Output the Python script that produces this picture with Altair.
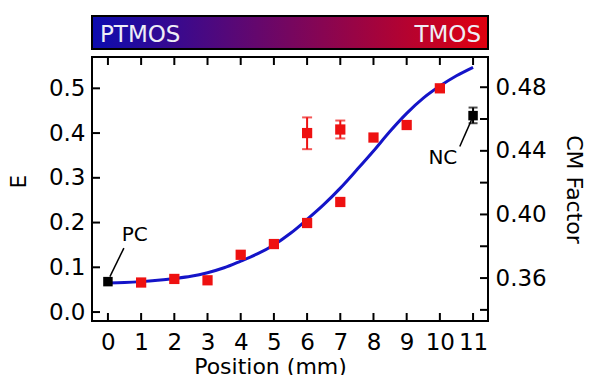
import altair as alt
import pandas as pd

# ---- data ----------------------------------------------------------------
# electrode positions (mm) and measured E of the sample points
sample_pos = [1, 2, 3, 4, 5, 6, 6, 7, 7, 8, 9, 10]
sample_e = [0.066, 0.074, 0.071, 0.128, 0.152, 0.199, 0.400, 0.246, 0.408, 0.390, 0.418, 0.500]

# error bars on the sample points that carry one
err_pos = [6, 7]
err_lo = [0.364, 0.388]
err_hi = [0.435, 0.428]

# controls: positive (PC) and negative (NC)
ctrl_pos = [0, 11]
ctrl_e = [0.068, 0.439]
ctrl_name = ["PC", "NC"]
nc_lo = [0.422]
nc_hi = [0.457]

# fitted CM-factor curve, expressed on the E axis
curve_pos = [0, 0.5, 1, 1.5, 2, 2.5, 3, 3.5, 4, 4.5, 5, 5.5, 6, 6.5, 7, 7.5, 8,
             8.5, 9, 9.5, 10, 10.5, 11]
curve_e = [0.065, 0.066, 0.068, 0.071, 0.075, 0.080, 0.088, 0.099, 0.114, 0.130,
           0.150, 0.176, 0.207, 0.240, 0.277, 0.318, 0.360, 0.404, 0.444, 0.478,
           0.505, 0.528, 0.547]

# axis ticks
x_ticks = list(range(12))
e_ticks = [0.0, 0.1, 0.2, 0.3, 0.4, 0.5]
cm_minor = [0.34, 0.36, 0.38, 0.40, 0.42, 0.44, 0.46, 0.48]
cm_labels = [0.36, 0.40, 0.44, 0.48]

# control annotations: label anchor and leader line (data units)
ann_text = ["PC", "NC"]
ann_x = [0.81, 10.09]
ann_y = [0.172, 0.344]
lead_x1 = [0.06, 10.60]
lead_y1 = [0.079, 0.370]
lead_x2 = [0.48, 10.95]
lead_y2 = [0.143, 0.429]

# ---- layout ---------------------------------------------------------------
W, H = 396, 264
FONT = "DejaVu Sans"
RED = "#ee1111"
BLUE = "#1414c8"

xs = alt.Scale(domain=[-0.48, 11.45], nice=False, zero=False)
ys = alt.Scale(domain=[-0.02, 0.57], nice=False, zero=False)
cs = alt.Scale(domain=[0.333, 0.499], nice=False, zero=False)

x_axis = alt.Axis(
    orient="bottom", values=x_ticks, format="d", ticks=False, domain=False,
    grid=False, labelFontSize=23, labelPadding=10, labelFlush=False,
    labelOverlap=False, title="Position (mm)", titleFontSize=22,
    titleFontWeight="normal", titleX=178, titleY=52, titleAlign="center",
    titleBaseline="alphabetic",
)
y_axis = alt.Axis(
    orient="left", values=e_ticks, format=".1f", ticks=False, domain=False,
    grid=False, labelFontSize=23, labelPadding=7, labelFlush=False,
    title="E", titleFontSize=21, titleFontWeight="normal", titleAngle=270,
    titleX=-67, titleY=124, titleAlign="center", titleBaseline="alphabetic",
)
cm_axis = alt.Axis(
    orient="right", values=cm_labels, format=".2f", ticks=False, domain=False,
    grid=False, labelFontSize=23, labelPadding=7, labelFlush=False,
    title="CM Factor", titleFontSize=22, titleFontWeight="normal", titleAngle=90,
    titleX=78, titleY=132, titleAlign="center", titleBaseline="alphabetic",
)


def X(field):
    return alt.X(f"{field}:Q", scale=xs, axis=x_axis)


def Y(field):
    return alt.Y(f"{field}:Q", scale=ys, axis=y_axis)


samples = pd.DataFrame({"x": sample_pos, "E": sample_e})
errs = pd.DataFrame({"x": err_pos, "lo": err_lo, "hi": err_hi})
ctrls = pd.DataFrame({"x": ctrl_pos, "E": ctrl_e, "name": ctrl_name})
nc_err = pd.DataFrame({"x": [ctrl_pos[1]], "lo": nc_lo, "hi": nc_hi})
curve = pd.DataFrame({"x": curve_pos, "E": curve_e})
xt = pd.DataFrame({"x": x_ticks})
et = pd.DataFrame({"E": e_ticks})
ct = pd.DataFrame({"cm": cm_minor})
labels = pd.DataFrame({"x": ann_x, "E": ann_y, "t": ann_text})
leaders = pd.DataFrame({"x": lead_x1, "E": lead_y1, "x2": lead_x2, "y2": lead_y2})
one = pd.DataFrame({"k": [0]})

# inward tick marks on the frame
top_ticks = alt.Chart(xt).mark_rule(color="black", strokeWidth=2).encode(
    x=X("x"), y=alt.value(0), y2=alt.value(8))
bottom_ticks = alt.Chart(xt).mark_rule(color="black", strokeWidth=2).encode(
    x=X("x"), y=alt.value(H), y2=alt.value(H - 8))
left_ticks = alt.Chart(et).mark_rule(color="black", strokeWidth=2).encode(
    y=Y("E"), x=alt.value(0), x2=alt.value(8))

fit = alt.Chart(curve).mark_line(color=BLUE, strokeWidth=3, interpolate="monotone").encode(
    x=X("x"), y=Y("E"))

err_lines = alt.Chart(errs).mark_rule(color=RED, strokeWidth=2).encode(
    x=X("x"), y=Y("lo"), y2="hi:Q")
err_cap_lo = alt.Chart(errs).mark_tick(color=RED, orient="horizontal", size=10, thickness=2).encode(
    x=X("x"), y=Y("lo"))
err_cap_hi = alt.Chart(errs).mark_tick(color=RED, orient="horizontal", size=10, thickness=2).encode(
    x=X("x"), y=Y("hi"))

nc_line = alt.Chart(nc_err).mark_rule(color="black", strokeWidth=2).encode(
    x=X("x"), y=Y("lo"), y2="hi:Q")
nc_cap_lo = alt.Chart(nc_err).mark_tick(color="black", orient="horizontal", size=9, thickness=2).encode(
    x=X("x"), y=Y("lo"))
nc_cap_hi = alt.Chart(nc_err).mark_tick(color="black", orient="horizontal", size=9, thickness=2).encode(
    x=X("x"), y=Y("hi"))

sample_pts = alt.Chart(samples).mark_square(color=RED, size=105, opacity=1).encode(
    x=X("x"), y=Y("E"))
ctrl_pts = alt.Chart(ctrls).mark_square(color="black", size=90, opacity=1).encode(
    x=X("x"), y=Y("E"))

lead_lines = alt.Chart(leaders).mark_rule(color="black", strokeWidth=1.5).encode(
    x=X("x"), y=Y("E"), x2="x2:Q", y2="y2:Q")
ann = alt.Chart(labels).mark_text(font=FONT, fontSize=20, color="black").encode(
    x=X("x"), y=Y("E"), text="t:N")

# gradient bar above the plot
bar = alt.Chart(one).mark_rect(
    fill=alt.LinearGradient(
        gradient="linear",
        stops=[alt.GradientStop(offset=0, color="#0c0cb0"),
               alt.GradientStop(offset=1, color="#e0000f")],
        x1=0, x2=1, y1=0, y2=0,
    ),
    stroke="black", strokeWidth=2,
).encode(x=alt.value(0), x2=alt.value(W), y=alt.value(-41), y2=alt.value(-8))
bar_left = alt.Chart(one).mark_text(
    font=FONT, fontSize=23, color="#eeeef6", align="left", baseline="alphabetic"
).encode(x=alt.value(8), y=alt.value(-15.5), text=alt.value("PTMOS"))
bar_right = alt.Chart(one).mark_text(
    font=FONT, fontSize=23, color="#eeeef6", align="right", baseline="alphabetic"
).encode(x=alt.value(389), y=alt.value(-15.5), text=alt.value("TMOS"))

left_group = alt.layer(
    fit, top_ticks, bottom_ticks, left_ticks,
    err_lines, err_cap_lo, err_cap_hi, nc_line, nc_cap_lo, nc_cap_hi,
    sample_pts, ctrl_pts, lead_lines, ann, bar, bar_left, bar_right,
)

right_ticks = alt.Chart(ct).mark_rule(color="black", strokeWidth=2).encode(
    y=alt.Y("cm:Q", scale=cs, axis=cm_axis), x=alt.value(W), x2=alt.value(W - 8))

chart = (
    alt.layer(left_group, right_ticks)
    .resolve_scale(y="independent")
    .properties(
        width=W, height=H,
        autosize=alt.AutoSizeParams(type="none"),
        padding={"left": 92, "top": 57, "right": 101, "bottom": 54},
        background="white",
    )
    .configure_view(stroke="black", strokeWidth=2)
    .configure_axis(labelFont=FONT, titleFont=FONT, labelColor="black", titleColor="black")
)

chart.save("out.html", embed_options={"renderer": "svg", "actions": False})
